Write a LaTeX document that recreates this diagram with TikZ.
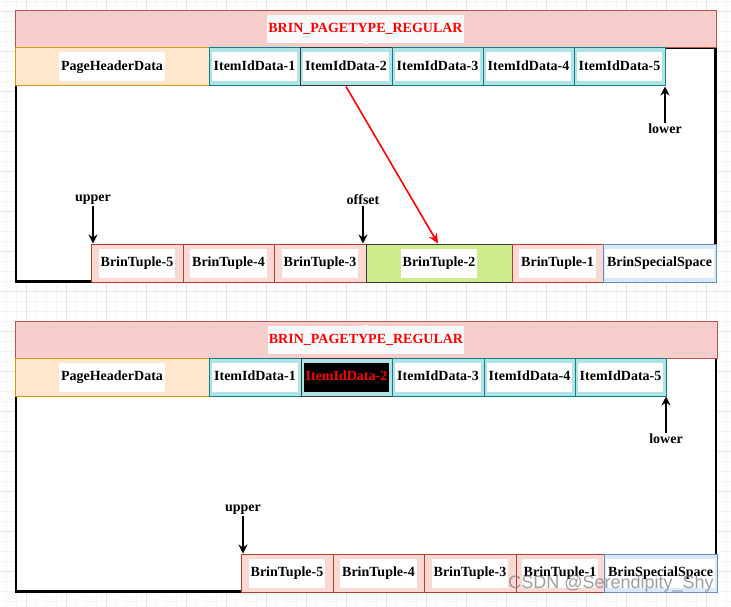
\documentclass[tikz,border=0pt]{standalone}
\usepackage{fontspec}
\setmainfont{Liberation Serif}
\newfontfamily\wmfont{Liberation Sans}
\usetikzlibrary{arrows.meta}
\definecolor{hdrfill}{HTML}{F8CECC}
\definecolor{hdrdraw}{HTML}{B85450}
\definecolor{phfill}{HTML}{FFE6CC}
\definecolor{phdraw}{HTML}{D79B00}
\definecolor{itfill}{HTML}{B0E3E6}
\definecolor{itdraw}{HTML}{0E8088}
\definecolor{tpfill}{HTML}{FAD9D5}
\definecolor{tpdraw}{HTML}{AE4132}
\definecolor{spfill}{HTML}{DAE8FC}
\definecolor{spdraw}{HTML}{6C8EBF}
\definecolor{grfill}{HTML}{CDEB8B}
\definecolor{dkdraw}{HTML}{36393D}
\definecolor{lblbg}{HTML}{F8F9FA}
\definecolor{gridmaj}{HTML}{E4E4E4}
\definecolor{gridmin}{HTML}{F4F4F4}
\newcommand\mkcell[7]{%
  \node[#1, minimum width=#4-#3, minimum height=#6-#5] (#2) at ({(#3+#4)/2},{(#5+#6)/2}) {};
  \node[lbl] (#2t) at (#2) {#7};}
\begin{document}
\begin{tikzpicture}[x=1pt,y=-1pt,
  every node/.style={font=\bfseries\fontsize{14}{16}\selectfont},
  box/.style={rectangle, inner sep=0pt, line width=1pt},
  hdr/.style={box, fill=hdrfill, draw=hdrdraw},
  phd/.style={box, fill=phfill, draw=phdraw},
  item/.style={box, fill=itfill, draw=itdraw},
  itemdk/.style={box, fill=itfill, draw=dkdraw},
  tup/.style={box, fill=tpfill, draw=tpdraw},
  spec/.style={box, fill=spfill, draw=spdraw},
  grn/.style={box, fill=grfill, draw=dkdraw},
  lbl/.style={fill=white, inner xsep=2pt, inner ysep=0pt, minimum height=29, text height=10, text depth=3},
  frame/.style={draw=black, fill=white, line width=2.6pt},
  ptr/.style={line width=1.6pt, -{Stealth[length=9pt,width=9pt]}},
  redptr/.style={line width=1.6pt, red, -{Stealth[length=10pt,width=9pt]}},
  plain/.style={inner sep=1pt}
]
\useasboundingbox (0,0) rectangle (731,607);
% background grid
\fill[white] (0,0) rectangle (731,607);
\foreach \gx in {-3.3,6.7,...,731} {\draw[gridmin, line width=0.8pt] (\gx,0) -- (\gx,607);}
\foreach \gy in {1.7,11.7,...,607} {\draw[gridmin, line width=0.8pt] (0,\gy) -- (731,\gy);}
\foreach \gx in {26.7,66.7,...,731} {\draw[gridmaj, line width=1pt] (\gx,0) -- (\gx,607);}
\foreach \gy in {11.7,51.7,...,607} {\draw[gridmaj, line width=1pt] (0,\gy) -- (731,\gy);}

% ===== top diagram =====
\draw[frame] (16,48) rectangle (715.5,281.5);
\mkcell{hdr}{h1}{15}{716}{11}{48}{}
\node[fill=lblbg, text=red, inner xsep=1pt, minimum height=28, text height=10, text depth=3] (h1l) at (h1) {BRIN\_PAGETYPE\_REGULAR};
\mkcell{phd}{p1}{15}{209}{48}{86}{PageHeaderData}
\mkcell{item}{a1}{209}{300}{48}{86}{ItemIdData-1}
\mkcell{itemdk}{a2}{300}{392}{48}{86}{ItemIdData-2}
\mkcell{item}{a3}{392}{483}{48}{86}{ItemIdData-3}
\mkcell{item}{a4}{483}{574}{48}{86}{ItemIdData-4}
\mkcell{item}{a5}{574}{665}{48}{86}{ItemIdData-5}
\mkcell{tup}{b5}{91}{183}{244}{282}{BrinTuple-5}
\mkcell{tup}{b4}{183}{274}{244}{282}{BrinTuple-4}
\mkcell{tup}{b3}{274}{366}{244}{282}{BrinTuple-3}
\mkcell{grn}{b2}{366}{512}{244}{282}{BrinTuple-2}
\mkcell{tup}{b1}{512}{603}{244}{282}{BrinTuple-1}
\mkcell{spec}{bs}{603}{716}{244}{282}{BrinSpecialSpace}
\node[plain] (lower1) at (665,129) {lower};
\node[plain] (upper1) at (93,200) {upper};
\node[plain] (offset1) at (363,200) {offset};
\draw[ptr] (lower1.north) -- (lower1 |- a5.south);
\draw[ptr] (upper1.south) -- (upper1 |- b5.north);
\draw[ptr] (offset1.south) -- (offset1 |- b3.north);
\draw[redptr] (a2.south) -- ([xshift=-1pt]b2.north);

% ===== bottom diagram =====
\draw[frame] (16,358) rectangle (716,591.5);
\mkcell{hdr}{h2}{15}{717}{321}{358}{}
\node[fill=lblbg, text=red, inner xsep=1pt, minimum height=28, text height=10, text depth=3] (h2l) at (h2) {BRIN\_PAGETYPE\_REGULAR};
\mkcell{phd}{q1}{15}{209}{358}{396}{PageHeaderData}
\mkcell{item}{c1}{209}{301}{358}{396}{ItemIdData-1}
\node[itemdk, minimum width=91, minimum height=38] (c2) at (346.5,377) {};
\node[lbl, fill=black, text=red] (c2t) at (c2) {ItemIdData-2};
\mkcell{item}{c3}{392}{484}{358}{396}{ItemIdData-3}
\mkcell{item}{c4}{484}{575}{358}{396}{ItemIdData-4}
\mkcell{item}{c5}{575}{666}{358}{396}{ItemIdData-5}
\mkcell{tup}{d5}{241}{333}{554}{592}{BrinTuple-5}
\mkcell{tup}{d4}{333}{424}{554}{592}{BrinTuple-4}
\mkcell{tup}{d3}{424}{516}{554}{592}{BrinTuple-3}
\mkcell{tup}{d1}{516}{604}{554}{592}{BrinTuple-1}
\mkcell{spec}{ds}{604}{717}{554}{592}{BrinSpecialSpace}
\node[plain] (lower2) at (666,439) {lower};
\node[plain] (upper2) at (243,510) {upper};
\draw[ptr] (lower2.north) -- (lower2 |- c5.south);
\draw[ptr] (upper2.south) -- (upper2 |- d5.north);

% watermark
\node[font=\wmfont\fontsize{18}{20}\selectfont, text=gray, opacity=0.75, inner sep=0pt] (wm) at (611,584) {CSDN @Serendipity\_Shy};
\end{tikzpicture}
\end{document}
